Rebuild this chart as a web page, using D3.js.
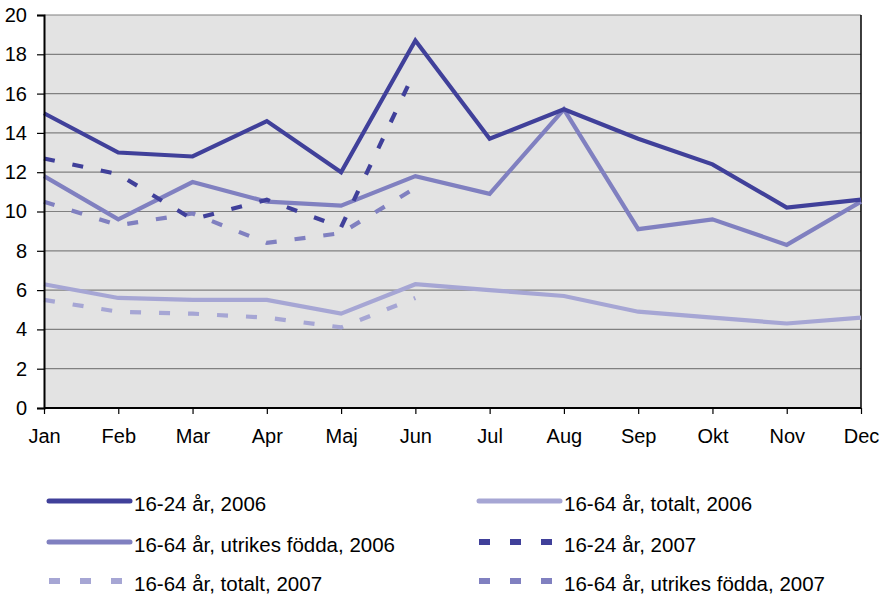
<!DOCTYPE html>
<html>
<head>
<meta charset="utf-8">
<script src="https://cdn.jsdelivr.net/npm/d3@7"></script>
<style>
  html, body { margin: 0; padding: 0; background: #ffffff; }
  svg { display: block; }
  text { font-family: "Liberation Sans", Arial, sans-serif; fill: #000; }
</style>
</head>
<body>
<svg id="chart" width="880" height="595"></svg>
<script>
const months = ["Jan","Feb","Mar","Apr","Maj","Jun","Jul","Aug","Sep","Okt","Nov","Dec"];
const yTicks = [0,2,4,6,8,10,12,14,16,18,20];

const youth2006    = [15.0, 13.0, 12.8, 14.6, 12.0, 18.7, 13.7, 15.2, 13.7, 12.4, 10.2, 10.6];
const total2006    = [6.3, 5.6, 5.5, 5.5, 4.8, 6.3, 6.0, 5.7, 4.9, 4.6, 4.3, 4.6];
const foreign2006  = [11.8, 9.6, 11.5, 10.5, 10.3, 11.8, 10.9, 15.2, 9.1, 9.6, 8.3, 10.5];
const youth2007    = [12.7, 11.9, 9.6, 10.6, 9.2, 17.2];
const total2007    = [5.5, 4.9, 4.8, 4.6, 4.1, 5.6];
const foreign2007  = [10.5, 9.3, 9.9, 8.4, 8.9, 11.2];

const names = [
  "16-24 år, 2006",
  "16-64 år, totalt, 2006",
  "16-64 år, utrikes födda, 2006",
  "16-24 år, 2007",
  "16-64 år, totalt, 2007",
  "16-64 år, utrikes födda, 2007"
];

const cDark = "#40409a", cMid = "#8080c0", cLight = "#a6a6d4";
const series = [
  {name: names[2], values: foreign2006, color: cMid,   dash: null},
  {name: names[1], values: total2006,   color: cLight, dash: null},
  {name: names[0], values: youth2006,   color: cDark,  dash: null},
  {name: names[5], values: foreign2007, color: cMid,   dash: "11,18"},
  {name: names[4], values: total2007,   color: cLight, dash: "11,18"},
  {name: names[3], values: youth2007,   color: cDark,  dash: "11,18"}
];

const svg = d3.select("#chart");
const pLeft = 44, pRight = 861, pTop = 15, pBottom = 408;

const x = d3.scalePoint().domain(months).range([pLeft, pRight]);
const y = d3.scaleLinear().domain([0, 20]).range([pBottom, pTop]);

// plot background
svg.append("rect").attr("x", pLeft).attr("y", pTop)
  .attr("width", pRight - pLeft).attr("height", pBottom - pTop)
  .attr("fill", "#e3e3e3");

// gridlines
svg.append("g").selectAll("line").data(yTicks.filter(d => d > 0)).join("line")
  .attr("x1", pLeft).attr("x2", pRight)
  .attr("y1", d => y(d)).attr("y2", d => y(d))
  .attr("stroke", "#808080").attr("stroke-width", 1.2);

// right border
svg.append("line").attr("x1", pRight).attr("x2", pRight).attr("y1", pTop).attr("y2", pBottom)
  .attr("stroke", "#000").attr("stroke-width", 1.5);

// lines
const line = d3.line().x((d, i) => x(months[i])).y(d => y(d));
svg.append("g").selectAll("path").data(series).join("path")
  .attr("d", d => line(d.values))
  .attr("fill", "none")
  .attr("stroke", d => d.color)
  .attr("stroke-width", 4.2)
  .attr("stroke-linejoin", "miter")
  .attr("stroke-dasharray", d => d.dash);

// y axis
const yAxis = d3.axisLeft(y).tickValues(yTicks).tickSize(7).tickPadding(10);
const gy = svg.append("g").attr("transform", `translate(${pLeft},0)`).call(yAxis);
gy.select(".domain").attr("stroke", "#000").attr("stroke-width", 2);
gy.selectAll(".tick line").attr("stroke", "#000").attr("stroke-width", 1.2);
gy.selectAll("text").style("font-size", "20px").attr("font-family", "Liberation Sans, Arial, sans-serif");

// x axis
const xAxis = d3.axisBottom(x).tickSize(6).tickPadding(15);
const gx = svg.append("g").attr("transform", `translate(0,${pBottom})`).call(xAxis);
gx.select(".domain").attr("stroke", "#000").attr("stroke-width", 2).attr("d", `M${pLeft},0H${pRight}`);
gx.selectAll(".tick line").attr("stroke", "#000").attr("stroke-width", 1.2);
gx.selectAll("text").style("font-size", "20px").attr("font-family", "Liberation Sans, Arial, sans-serif");

// legend
const legendOrder = [
  {s: series[2], col: 0, row: 0},
  {s: series[1], col: 1, row: 0},
  {s: series[0], col: 0, row: 1},
  {s: series[5], col: 1, row: 1},
  {s: series[4], col: 0, row: 2},
  {s: series[3], col: 1, row: 2}
];
const colX = [48, 478], rowY = [501, 542, 581];
const lg = svg.append("g").selectAll("g").data(legendOrder).join("g")
  .attr("transform", d => `translate(${colX[d.col]},${rowY[d.row]})`);
lg.append("line")
  .attr("x1", 1).attr("x2", 82)
  .attr("y1", 0).attr("y2", 0)
  .attr("stroke", d => d.s.color)
  .attr("stroke-width", d => d.s.dash ? 6 : 5)
  .attr("stroke-linecap", d => d.s.dash ? "butt" : "round")
  .attr("stroke-dasharray", d => d.s.dash ? "11,20" : null);
lg.append("text")
  .attr("x", 86).attr("y", 3).attr("dy", "0.35em")
  .style("font-size", "20.5px")
  .text(d => d.s.name);
</script>
</body>
</html>
